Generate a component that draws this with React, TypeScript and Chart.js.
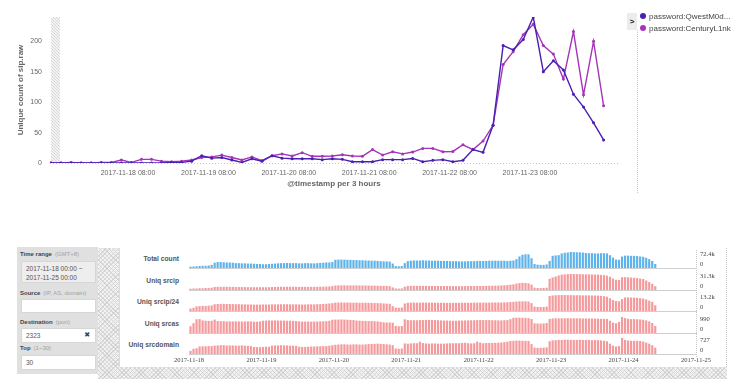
import React, { useEffect, useRef } from 'react';
import { Chart, registerables } from 'chart.js';

Chart.register(...registerables);

// ---------------- top chart data ----------------
// hours are counted from 2017-11-17 00:00 (GMT+8); buckets are 3 hours wide
const BUCKET_START_HOUR = 9;
const BUCKET_HOURS = 3;
const seriesNames = ['password:QwestM0d...', 'password:CenturyL1nk'];
const qwestM0dValues = [
  0, 0, 0, 0, 0, 0, 0, 0, 0, 0,
  0, 0, 1, 1, 3, 12, 8, 9, 5, 1,
  7, 3, 12, 8, 7, 7, 7, 5.5, 7, 6,
  2, 2, 2, 5.5, 5.5, 5.5, 7.5, 2, 4.4, 5.5,
  2, 4.4, 22, 17.5, 62, 193, 186, 203, 240, 150,
  168, 153, 113, 92, 66, 38,
];
const centuryL1nkValues = [
  0, 0, 1, 0, 0, 1, 1, 5, 1, 6,
  6, 3, 2, 3, 5, 9, 10, 13, 9, 5,
  10, 4, 12, 15, 11.5, 17, 11, 11, 11.5, 13.5,
  11.5, 11, 22, 13, 18.5, 15, 18, 24, 24, 18.5,
  19, 30, 22, 36, 62, 162, 183, 211, 228, 193,
  179, 138, 216, 112, 200, 94,
];
const topTickHours = [32, 56, 80, 104, 128, 152];
const topTickLabels = [
  '2017-11-18 08:00', '2017-11-19 08:00', '2017-11-20 08:00',
  '2017-11-21 08:00', '2017-11-22 08:00', '2017-11-23 08:00',
];
const yTickValues = [0, 50, 100, 150, 200];
const Y_MAX = 240;
const PARTIAL_BUCKET_HOURS = [9, 11.7];

// ---------------- bottom panel data (hourly, from 2017-11-18 00:00) ----------------
const dayTickHours = [0, 24, 48, 72, 96, 120, 144, 168];
const dayLabels = [
  '2017-11-18', '2017-11-19', '2017-11-20', '2017-11-21',
  '2017-11-22', '2017-11-23', '2017-11-24', '2017-11-25',
];
const rowNames = ['Total count', 'Uniq srcip', 'Uniq srcip/24', 'Uniq srcas', 'Uniq srcdomain'];

const totalCountK = [
  6, 7, 8, 9, 10, 10, 11, 14,
  24, 27, 27, 26, 25, 25, 24,
  22, 22, 21, 21, 20, 20, 19, 18, 18, 17, 17, 18, 19, 20,
  21, 22, 22, 23, 22, 22, 22, 21, 21, 22, 22, 21, 21, 22,
  23, 24, 25, 25, 27,
  37, 38, 38, 38, 37, 37, 36, 36, 35, 35, 34, 34, 33, 33, 32, 31, 30, 30, 29,
  20, 9, 8, 9,
  22,
  31, 33, 34, 34, 34, 35, 34, 34, 33, 33, 33, 32, 32, 32, 31, 31, 31, 30, 30, 30,
  31, 31, 31, 32, 32, 32, 32, 33, 33, 33, 33, 33, 33, 32, 33, 34,
  40, 52, 60, 62, 62, 44,
  18, 15, 14, 14, 16,
  32, 55, 57, 58,
  66, 69, 70, 72.4, 72, 71, 71, 70,
  68, 67, 67, 66, 66, 67, 67, 66,
  58, 47, 38, 37,
  52, 56, 56, 55, 55, 54, 52, 51,
  46, 40, 32, 18,
];
const uniqSrcipK = [
  2.5, 3, 3, 3.5, 3.5, 4, 4, 4.5,
  6, 6.3, 6.3, 6.2, 6.2, 6.1, 6,
  5.8, 5.8, 5.7, 5.7, 5.6, 5.5, 5.5, 5.4, 5.4, 5.4, 5.5, 5.6, 5.8, 6,
  6.2, 6.3, 6.3, 6.4, 6.3, 6.3, 6.2, 6.1, 6.1, 6.2, 6.2, 6.1, 6.1, 6.2,
  6.4, 6.6, 6.8, 7, 7.6,
  8.8, 9, 9.1, 9.1, 9, 9, 8.9, 8.9, 8.8, 8.8, 8.7, 8.6, 8.6, 8.5, 8.4, 8.2, 8, 7.8, 7.6,
  5, 3, 2.8, 3.2,
  6.5,
  7.8, 8, 8.1, 8.1, 8.1, 8.2, 8.1, 8, 8, 7.9, 7.9, 7.8, 7.8, 7.7, 7.6, 7.6, 7.6, 7.5, 7.5, 7.6,
  7.7, 7.8, 7.8, 7.9, 8, 8, 8.1, 8.2, 8.3, 8.4, 8.6, 8.8, 9.2, 9.8, 10.5, 11.2,
  12.5, 13.5, 14, 13.8, 13, 10.5,
  4.6, 4, 3.8, 3.9, 4.5,
  22, 24.5, 26.5, 28.5,
  30, 30.6, 31, 31.3, 31.3, 31.1, 31, 30.9,
  30.7, 30.6, 30.4, 30.2, 30, 29.6, 29, 28,
  26, 22.5, 20, 19.5,
  25, 25.2, 24.8, 24.4, 24, 23.3, 22.5, 21.5,
  18.5, 15.5, 12, 7.5,
];
const uniqSrcip24K = [
  2, 2.6, 3.8, 4, 4.2, 4.2, 4.4, 4.6,
  5.6, 5.8, 5.9, 5.9, 5.8, 5.8, 5.7,
  5.6, 5.6, 5.5, 5.5, 5.4, 5.4, 5.3, 5.3, 5.3, 5.4, 5.4, 5.4, 5.5, 5.5,
  5.5, 5.6, 5.6, 5.6, 5.5, 5.5, 5.5, 5.4, 5.4, 5.4, 5.5, 5.5, 5.5, 5.6,
  5.7, 5.8, 6, 6.2, 6.5,
  6.9, 7, 7, 7, 7, 6.9, 6.9, 6.9, 6.8, 6.8, 6.8, 6.7, 6.7, 6.6, 6.5, 6.4, 6.2, 6.1, 6,
  4, 2.8, 2.7, 2.9,
  6.2,
  6.8, 6.9, 6.9, 6.9, 6.9, 7, 6.9, 6.9, 6.9, 6.8, 6.8, 6.8, 6.8, 6.7, 6.7, 6.7, 6.7, 6.7, 6.8, 6.8,
  6.8, 6.8, 6.9, 6.9, 6.9, 6.9, 6.9, 6.9, 7, 7, 7, 7, 7.1, 7.2, 7.4, 7.6,
  7.8, 8, 8, 8, 7.8, 6.5,
  3.6, 3.4, 3.3, 3.3, 3.6,
  12.4, 12.8, 13, 13.1,
  13.2, 13.2, 13.1, 13.1, 13, 13, 13, 12.9,
  12.9, 12.9, 12.8, 12.8, 12.7, 12.5, 12.2, 11.8,
  10.5, 9, 8.2, 8,
  9.8, 11.2, 11.2, 11.1, 11, 10.9, 10.6, 10.3,
  9.5, 8.5, 7.5, 4.7,
];
const uniqSrcas = [
  420, 610, 850, 860, 780, 760, 750, 760,
  830, 740, 730, 730, 720, 720, 720,
  720, 715, 710, 715, 720, 720, 700, 700, 710, 760, 770, 780, 780, 780,
  770, 770, 770, 760, 760, 750, 740, 720, 710, 710, 710, 700, 710, 710,
  720, 720, 730, 760, 820,
  830, 830, 840, 830, 820, 810, 800, 770, 760, 750, 750, 740, 740, 730, 720, 690, 660, 650, 650,
  640, 440, 420, 430,
  850,
  800, 790, 790, 790, 800, 800, 800, 810, 810, 800, 790, 780, 770, 770, 760, 760, 760, 770, 770, 780,
  780, 790, 790, 800, 800, 800, 800, 800, 790, 790, 780, 780, 790, 800, 860, 940,
  950, 950, 940, 940, 920, 870,
  600, 590, 580, 590, 620,
  870, 900, 910, 910,
  910, 910, 920, 910, 910, 910, 910, 900,
  900, 900, 900, 890, 890, 880, 880, 870,
  760, 640, 600, 680,
  990, 930, 880, 860, 860, 850, 840, 820,
  780, 720, 620, 430,
];
const uniqSrcdomain = [
  140, 240, 260, 340, 350, 350, 360, 360,
  380, 390, 400, 400, 390, 390, 390,
  380, 380, 390, 380, 370, 360, 320, 310, 310, 320, 330, 330, 380, 390,
  390, 400, 390, 390, 380, 380, 370, 330, 320, 320, 330, 340, 340, 350,
  350, 360, 360, 380, 400,
  420, 430, 440, 440, 430, 430, 440, 440, 430, 430, 440, 450, 460, 460, 470, 460, 450, 440, 430,
  400, 250, 240, 250,
  480,
  470, 480, 490, 490, 560, 500, 480, 470, 480, 480, 470, 470, 470, 480, 490, 490, 490, 490, 500, 510,
  490, 480, 490, 560, 520, 490, 500, 500, 500, 510, 510, 520, 540, 560, 590, 600,
  610, 610, 600, 600, 590, 450,
  290, 280, 280, 290, 300,
  580, 620, 630, 640,
  640, 650, 650, 640, 640, 640, 650, 640,
  640, 640, 630, 630, 630, 620, 600, 580,
  470, 380, 340, 360,
  727, 640, 610, 600, 600, 600, 590, 570,
  520, 470, 400, 290,
];

// ---------------- styles ----------------
const SANS = "'Liberation Sans', Arial, Helvetica, sans-serif";
const SERIF = "'Liberation Serif', 'Times New Roman', serif";
const SERIES_COLORS = ['#4a20b2', '#a535b8'];
const BLUE = '#5db3ea';
const RED = '#f59a9c';

const ROWS = [
  { name: rowNames[0], values: totalCountK, unit: 'k', color: BLUE },
  { name: rowNames[1], values: uniqSrcipK, unit: 'k', color: RED },
  { name: rowNames[2], values: uniqSrcip24K, unit: 'k', color: RED },
  { name: rowNames[3], values: uniqSrcas, unit: '', color: RED },
  { name: rowNames[4], values: uniqSrcdomain, unit: '', color: RED },
];
const ROW_BASELINES = [268, 290, 311, 333, 354];

const HATCH: React.CSSProperties = {
  backgroundColor: '#f2f2f2',
  backgroundImage:
    'repeating-linear-gradient(45deg, rgba(196,196,196,0.55) 0px, rgba(196,196,196,0.55) 1px, transparent 1px, transparent 3px),' +
    'repeating-linear-gradient(-45deg, rgba(196,196,196,0.55) 0px, rgba(196,196,196,0.55) 1px, transparent 1px, transparent 3px)',
};

const partialBandPlugin = {
  id: 'partialBand',
  beforeDatasetsDraw(chart: any, _args: any, opts: any) {
    const { ctx, chartArea } = chart;
    const x = chart.scales.x;
    const x0 = x.getPixelForValue(opts.from);
    const x1 = x.getPixelForValue(opts.to);
    const pc = document.createElement('canvas');
    pc.width = 3;
    pc.height = 3;
    const p = pc.getContext('2d')!;
    p.fillStyle = '#f3f3f3';
    p.fillRect(0, 0, 3, 3);
    p.fillStyle = '#d6d6d6';
    p.fillRect(0, 0, 1, 1);
    p.fillRect(1, 1, 1, 1);
    p.fillRect(2, 2, 1, 1);
    ctx.save();
    ctx.fillStyle = ctx.createPattern(pc, 'repeat');
    ctx.fillRect(x0, chartArea.top, x1 - x0, chartArea.bottom - chartArea.top);
    ctx.restore();
  },
};

const edgeLabelPlugin = {
  id: 'edgeLabels',
  afterDraw(chart: any, _args: any, opts: any) {
    const { ctx, chartArea } = chart;
    const y = chart.scales.y;
    ctx.save();
    ctx.font = `6.5px ${SERIF}`;
    ctx.fillStyle = '#444';
    ctx.textAlign = 'left';
    ctx.textBaseline = 'top';
    ctx.fillText(opts.maxText, chartArea.right + 4, y.getPixelForValue(y.max) - 0.5);
    ctx.textBaseline = 'alphabetic';
    ctx.fillText('0', chartArea.right + 4, y.getPixelForValue(0) - 2);
    ctx.restore();
  },
};

function TopChart() {
  const ref = useRef<HTMLCanvasElement>(null);
  useEffect(() => {
    const toPoints = (vals: number[]) =>
      vals.map((v, i) => ({ x: BUCKET_START_HOUR + i * BUCKET_HOURS, y: v }));
    const chart = new Chart(ref.current!, {
      type: 'line',
      data: {
        datasets: [qwestM0dValues, centuryL1nkValues].map((vals, i) => ({
          label: seriesNames[i],
          data: toPoints(vals),
          borderColor: SERIES_COLORS[i],
          backgroundColor: SERIES_COLORS[i],
          pointBackgroundColor: SERIES_COLORS[i],
          borderWidth: 1.4,
          pointRadius: 1.5,
          pointBorderWidth: 0,
          pointHoverRadius: 0,
          tension: 0,
          fill: false,
        })),
      },
      options: {
        animation: false,
        responsive: false,
        devicePixelRatio: 1,
        events: [],
        layout: { padding: { left: 0, top: 17, right: 12, bottom: 0 } },
        plugins: {
          legend: { display: false },
          tooltip: { enabled: false },
          partialBand: { from: PARTIAL_BUCKET_HOURS[0], to: PARTIAL_BUCKET_HOURS[1] },
        } as any,
        scales: {
          x: {
            type: 'linear',
            min: 8.7,
            max: 178.3,
            grid: { display: false, drawTicks: false },
            border: { display: false },
            ticks: {
              autoSkip: false,
              maxRotation: 0,
              padding: 5.5,
              color: '#666',
              font: { family: SANS, size: 7 },
              callback: (_v: any, i: number) => topTickLabels[i],
            },
            afterBuildTicks: (s: any) => {
              s.ticks = topTickHours.map((v) => ({ value: v }));
            },
            afterFit: (s: any) => {
              s.height = 37;
            },
            title: {
              display: true,
              text: '@timestamp per 3 hours',
              color: '#666',
              font: { family: SANS, size: 8, weight: 'bold' },
              padding: { top: 0, bottom: 11.2 },
            },
          },
          y: {
            min: 0,
            max: Y_MAX,
            grid: {
              drawTicks: false,
              color: (c: any) => (c.tick && c.tick.value === 0 ? '#c4c4c4' : 'rgba(0,0,0,0)'),
            },
            border: { display: false, dash: [1, 2] },
            ticks: {
              padding: 8,
              color: '#666',
              font: { family: SANS, size: 7 },
            },
            afterBuildTicks: (s: any) => {
              s.ticks = yTickValues.map((v) => ({ value: v }));
            },
            afterFit: (s: any) => {
              s.width = 50;
            },
            title: {
              display: true,
              text: 'Unique count of sip.raw',
              color: '#666',
              font: { family: SANS, size: 8, weight: 'bold' },
              padding: { top: 15.7, bottom: 0 },
            },
          },
        },
      } as any,
      plugins: [partialBandPlugin],
    });
    return () => chart.destroy();
  }, []);
  return (
    <canvas
      ref={ref}
      width={630}
      height={200}
      style={{ position: 'absolute', left: 0, top: 0, width: 630, height: 200 }}
    />
  );
}

function SparkRow({ row, baseline, last }: { row: any; baseline: number; last: boolean }) {
  const ref = useRef<HTMLCanvasElement>(null);
  const height = last ? 30 : 20;
  useEffect(() => {
    const maxV = Math.max(...row.values);
    const chart = new Chart(ref.current!, {
      type: 'bar',
      data: {
        datasets: [
          {
            data: row.values.map((v: number, i: number) => ({ x: i + 0.5, y: v })),
            backgroundColor: row.color,
            borderWidth: 0,
            barPercentage: 1,
            categoryPercentage: 0.72,
          },
        ],
      },
      options: {
        animation: false,
        responsive: false,
        devicePixelRatio: 1,
        events: [],
        layout: { padding: { left: 19, right: 0, top: 2, bottom: last ? 0 : 2 } },
        plugins: {
          legend: { display: false },
          tooltip: { enabled: false },
          edgeLabels: { maxText: `${maxV}${row.unit}` },
        } as any,
        scales: {
          x: {
            type: 'linear',
            min: 0,
            max: 168,
            offset: false,
            grid: { display: false, drawTicks: false },
            border: { display: true, color: '#cfcfcf', width: 1 },
            ticks: {
              display: last,
              autoSkip: false,
              maxRotation: 0,
              padding: 2,
              color: '#444',
              font: { family: SERIF, size: 6.5 },
              callback: (_v: any, i: number) => dayLabels[i],
            },
            afterBuildTicks: (s: any) => {
              s.ticks = dayTickHours.map((v) => ({ value: v }));
            },
            afterFit: (s: any) => {
              s.height = last ? 12 : 0;
            },
          },
          y: {
            position: 'right',
            min: 0,
            max: maxV,
            grid: { display: false, drawTicks: false },
            border: { display: false },
            ticks: { display: false },
            afterFit: (s: any) => {
              s.width = 29;
            },
          },
        },
      } as any,
      plugins: [edgeLabelPlugin],
    });
    return () => chart.destroy();
  }, []);
  return (
    <>
      <div
        style={{
          position: 'absolute',
          left: 100,
          width: 79,
          top: baseline - 15,
          height: 12,
          lineHeight: '12px',
          textAlign: 'right',
          fontFamily: SANS,
          fontSize: 6.7,
          fontWeight: 'bold',
          color: '#555',
          whiteSpace: 'nowrap',
        }}
      >
        {row.name}
      </div>
      <canvas
        ref={ref}
        width={555}
        height={height}
        style={{ position: 'absolute', left: 170, top: baseline - 18, width: 555, height }}
      />
    </>
  );
}

const labelStyle: React.CSSProperties = {
  position: 'absolute',
  left: 3,
  fontFamily: SANS,
  fontSize: 6,
  fontWeight: 'bold',
  color: '#444',
  whiteSpace: 'nowrap',
  lineHeight: '8px',
};
const hintStyle: React.CSSProperties = { fontWeight: 'normal', color: '#a2a2a2', marginLeft: 3 };
const inputStyle: React.CSSProperties = {
  position: 'absolute',
  left: 4,
  width: 75,
  boxSizing: 'border-box',
  background: '#fff',
  border: '1px solid #d6d6d6',
  borderRadius: 1,
  fontFamily: SANS,
  fontSize: 6.5,
  color: '#555',
  paddingLeft: 4,
};

function FormPanel() {
  return (
    <div style={{ position: 'absolute', left: 17, top: 247, width: 81, height: 127, background: '#e0e0e0' }}>
      <div style={{ ...labelStyle, top: 3 }}>
        Time range<span style={hintStyle}>(GMT+8)</span>
      </div>
      <div
        style={{
          ...inputStyle,
          top: 14,
          height: 22,
          background: '#eeeeee',
          lineHeight: '9px',
          paddingTop: 2,
        }}
      >
        <div>2017-11-18 00:00 ~</div>
        <div>2017-11-25 00:00</div>
      </div>
      <div style={{ ...labelStyle, top: 42 }}>
        Source<span style={hintStyle}>(IP, AS, domain)</span>
      </div>
      <div style={{ ...inputStyle, top: 52, height: 14 }} />
      <div style={{ ...labelStyle, top: 71 }}>
        Destination<span style={hintStyle}>(port)</span>
      </div>
      <div style={{ ...inputStyle, top: 81, height: 15, lineHeight: '13px' }}>
        2323
        <span style={{ position: 'absolute', right: 5, top: 0, fontSize: 7, color: '#444', fontFamily: "'DejaVu Sans', sans-serif" }}>
          ✖
        </span>
      </div>
      <div style={{ ...labelStyle, top: 97 }}>
        Top<span style={hintStyle}>(1~30)</span>
      </div>
      <div style={{ ...inputStyle, top: 108, height: 15, lineHeight: '13px' }}>30</div>
    </div>
  );
}

function Legend() {
  return (
    <>
      <div
        style={{
          position: 'absolute',
          left: 627,
          top: 13,
          width: 10,
          height: 17,
          background: '#ececec',
          color: '#222',
          fontFamily: SANS,
          fontSize: 8,
          fontWeight: 'bold',
          lineHeight: '17px',
          textAlign: 'center',
        }}
      >
        &gt;
      </div>
      <div
        style={{
          position: 'absolute',
          left: 640,
          top: 10,
          width: 100,
          overflow: 'hidden',
          whiteSpace: 'nowrap',
          fontFamily: SANS,
          fontSize: 8,
          color: '#444',
        }}
      >
        {seriesNames.map((n, i) => (
          <div key={n} style={{ display: 'flex', alignItems: 'center', height: 12 }}>
            <span
              style={{
                width: 6,
                height: 6,
                borderRadius: 3,
                background: SERIES_COLORS[i],
                marginRight: 3,
                flex: 'none',
              }}
            />
            {n}
          </div>
        ))}
      </div>
      <div style={{ position: 'absolute', left: 637, top: 30, height: 163, borderLeft: '1px dotted #c8c8c8' }} />
    </>
  );
}

export default function App() {
  useEffect(() => {
    document.body.style.margin = '0';
  }, []);
  return (
    <div
      style={{
        position: 'absolute',
        left: 0,
        top: 0,
        width: 744,
        height: 379,
        overflow: 'hidden',
        background: '#fff',
        fontFamily: SANS,
      }}
    >
      <TopChart />
      <Legend />
      <div style={{ position: 'absolute', left: 98, top: 248, width: 629, height: 131, ...HATCH }} />
      <div
        style={{
          position: 'absolute',
          left: 119,
          top: 248,
          width: 608,
          height: 119,
          background: '#fff',
          borderLeft: '1px solid #dcdcdc',
          borderRight: '1px dotted #c4c4c4',
          boxSizing: 'border-box',
        }}
      />
      <FormPanel />
      {ROWS.map((row, i) => (
        <SparkRow key={row.name} row={row} baseline={ROW_BASELINES[i]} last={i === ROWS.length - 1} />
      ))}
      <div style={{ position: 'absolute', left: 696, top: 250, height: 107, borderLeft: '1px dotted #c4c4c4' }} />
    </div>
  );
}
